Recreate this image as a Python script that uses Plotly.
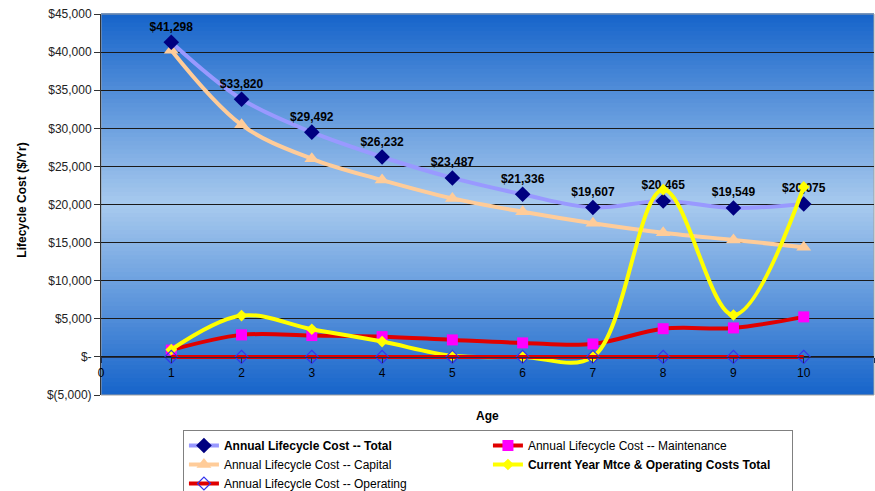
import plotly.graph_objects as go

# ---- data ----
ages = [1, 2, 3, 4, 5, 6, 7, 8, 9, 10]
total = [41298, 33820, 29492, 26232, 23487, 21336, 19607, 20465, 19549, 20075]
capital = [40250, 30450, 26000, 23200, 20800, 19050, 17550, 16300, 15350, 14400]
maintenance = [900, 2890, 2800, 2660, 2230, 1840, 1700, 3700, 3800, 5250]
current_year = [950, 5420, 3630, 2010, 150, 0, 0, 21950, 5500, 22300]
operating = [0, 0, 0, 0, 0, 0, 0, 0, 0, 0]

y_tickvals = [-5000, 0, 5000, 10000, 15000, 20000, 25000, 30000, 35000, 40000, 45000]
y_ticktext = ["$(5,000)", "$-", "$5,000", "$10,000", "$15,000", "$20,000",
              "$25,000", "$30,000", "$35,000", "$40,000", "$45,000"]
x_tickvals = [0, 1, 2, 3, 4, 5, 6, 7, 8, 9, 10, 11]

name_total = "<b>Annual Lifecycle Cost -- Total</b>"
name_maint = "Annual Lifecycle Cost -- Maintenance"
name_cap = "Annual Lifecycle Cost -- Capital"
name_cur = "<b>Current Year Mtce & Operating Costs Total</b>"
name_op = "Annual Lifecycle Cost -- Operating"

FONT = "Arial, Liberation Sans, sans-serif"
Y_MIN, Y_MAX = -5000, 45000

fig = go.Figure()

fig.add_trace(go.Scatter(
    x=ages, y=capital, name=name_cap, mode="lines+markers",
    line=dict(color="#FFCC99", width=4, shape="spline", smoothing=1),
    marker=dict(symbol="triangle-up", size=13, color="#FFCC99"),
    legendrank=3,
))
fig.add_trace(go.Scatter(
    x=ages, y=total, name=name_total, mode="lines+markers+text",
    text=[f"${v:,}" for v in total], textposition="top center",
    textfont=dict(family=FONT, size=12, color="black", weight="bold"),
    line=dict(color="#9999FF", width=4, shape="spline", smoothing=1),
    marker=dict(symbol="diamond", size=12, color="#000080"),
    legendrank=1,
))
fig.add_trace(go.Scatter(
    x=ages, y=maintenance, name=name_maint, mode="lines+markers",
    line=dict(color="#E00000", width=4, shape="spline", smoothing=1),
    marker=dict(symbol="square", size=11, color="#FF00FF"),
    legendrank=2,
))
fig.add_trace(go.Scatter(
    x=ages, y=current_year, name=name_cur, mode="lines+markers",
    line=dict(color="#FFFF00", width=4, shape="spline", smoothing=1),
    marker=dict(symbol="diamond", size=9, color="#FFFF00"),
    legendrank=4,
))
fig.add_trace(go.Scatter(
    x=ages, y=operating, name=name_op, mode="lines+markers",
    line=dict(color="#E00000", width=4, shape="spline", smoothing=1),
    marker=dict(symbol="diamond-open", size=10, color="#3333EE", line=dict(width=1.2)),
    legendrank=5,
))

# gradient background stripes (dark at edges, light in centre)
dark = (22, 100, 202)
light = (168, 202, 238)
n = 90
shapes = []
for i in range(n):
    f0 = i / n
    f1 = (i + 1) / n
    fm = (f0 + f1) / 2
    t = abs(2 * fm - 1)
    c = tuple(round(light[k] + (dark[k] - light[k]) * t) for k in range(3))
    shapes.append(dict(type="rect", xref="x domain", yref="y domain",
                       x0=0, x1=1, y0=f0, y1=f1 + 0.002, layer="below",
                       line=dict(width=0), fillcolor=f"rgb{c}"))
shapes.append(dict(type="rect", xref="x domain", yref="y domain", x0=0, x1=1,
                   y0=0, y1=1, layer="below", line=dict(color="#A0A0A0", width=1)))

fig.update_layout(
    width=875, height=491,
    margin=dict(l=101, r=1, t=14, b=96),
    paper_bgcolor="white", plot_bgcolor="#1664CA",
    font=dict(family=FONT, size=12, color="black"),
    shapes=shapes,
    showlegend=True,
    legend=dict(
        orientation="h", x=0.106, xanchor="left",
        yref="container", y=(491 - 430) / 491, yanchor="top",
        bgcolor="white", bordercolor="#808080", borderwidth=1,
        font=dict(family=FONT, size=12, color="black"),
        traceorder="normal",
        entrywidth=259, entrywidthmode="pixels",
    ),
    xaxis=dict(
        range=[0, 11], tickvals=x_tickvals, anchor="free", position=(0 - Y_MIN) / (Y_MAX - Y_MIN),
        showgrid=False, zeroline=False, showline=True, linecolor="#203050", linewidth=1,
        ticks="outside", ticklen=5, tickcolor="#203050",
        tickfont=dict(family=FONT, size=12, color="black"),
    ),
    yaxis=dict(
        range=[Y_MIN, Y_MAX], tickvals=y_tickvals, ticktext=y_ticktext,
        showgrid=True, gridcolor="#1A1A1A", gridwidth=1, zeroline=False,
        showline=True, linecolor="#333333", linewidth=1,
        ticks="outside", ticklen=6, tickcolor="#333333",
        tickfont=dict(family=FONT, size=12, color="#222222"),
    ),
    annotations=[
        dict(text="<b>Lifecycle Cost ($/Yr)</b>", xref="paper", yref="paper",
             x=(22 - 101) / 773, xanchor="center", y=0.51, yanchor="middle",
             textangle=-90, showarrow=False,
             font=dict(family=FONT, size=12, color="black")),
        dict(text="<b>Age</b>", xref="paper", yref="paper",
             x=0.5, xanchor="center", y=-0.055, yanchor="middle", showarrow=False,
             font=dict(family=FONT, size=12, color="black")),
    ],
)

fig.write_html("out.html")
